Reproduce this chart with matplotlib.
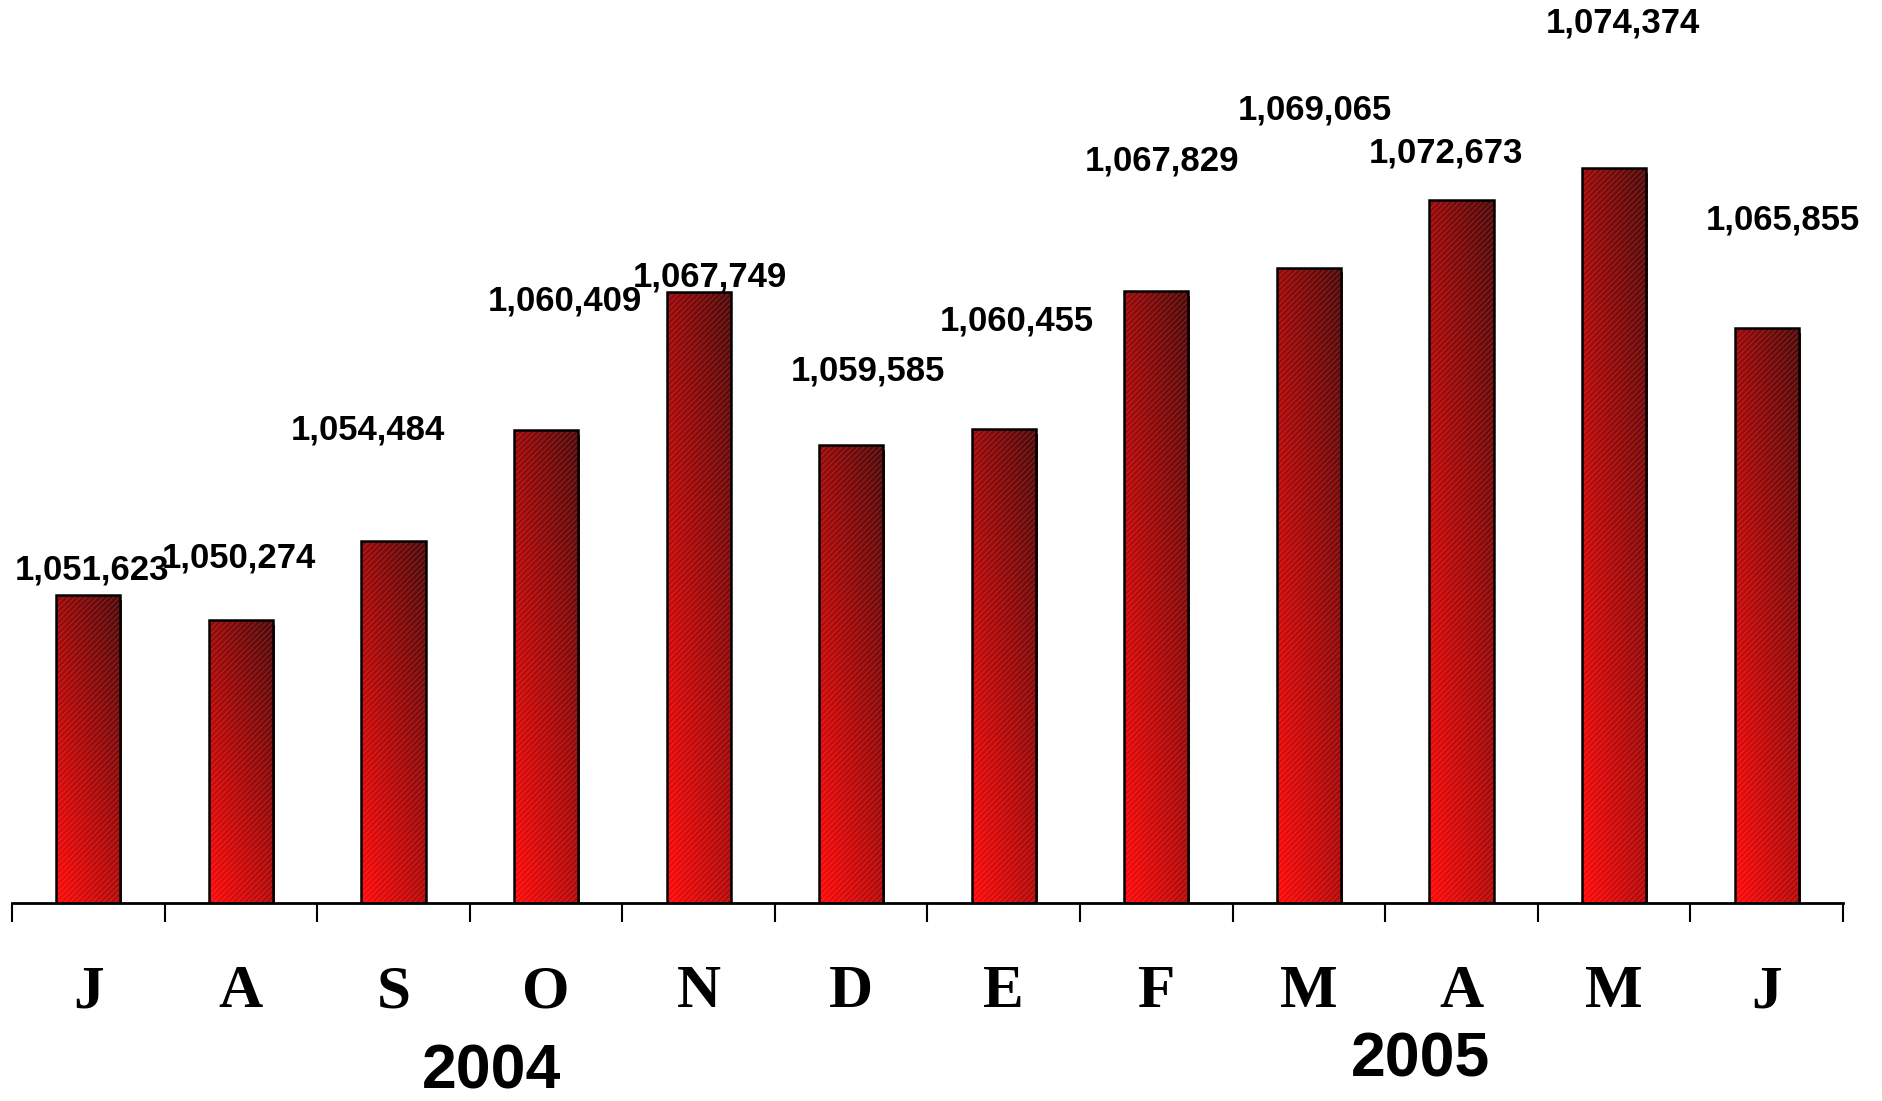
import matplotlib

matplotlib.use("Agg")
import matplotlib.pyplot as plt  # noqa: E402
import numpy as np  # noqa: E402

months = ["J", "A", "S", "O", "N", "D", "E", "F", "M", "A", "M", "J"]
values = [1051623, 1050274, 1054484, 1060409, 1067749, 1059585,
          1060455, 1067829, 1069065, 1072673, 1074374, 1065855]
years = ["2004", "2005"]

# label offsets (pixels) from the top centre of each bar, as in the original
label_dx = [4, -2, -26, 19, 11, 17, 13, 6, 6, -16, 9, 16]
label_dy = [25, 62, 111, 129, 15, 74, 108, 130, 158, 47, 145, 108]

Y_MIN, Y_MAX = 1035200, 1083330
BAR_W = 0.42

fig = plt.figure(figsize=(18.83, 11.01), dpi=100)
ax = fig.add_axes([12 / 1883, 198 / 1101, 1831 / 1883, 903 / 1101])

x = np.arange(len(months))
bright = np.array([1.0, 0.04, 0.04])
dark = np.array([0.33, 0.04, 0.04])

# diagonal gradient: bright bottom-left, dark top-right
gy, gx = np.mgrid[0:1:200j, 0:1:60j]
t = np.clip(0.6 * gy + 0.45 * gx, 0, 1)
grad = bright * (1 - t[..., None]) + dark * t[..., None]

for xi, v in zip(x, values):
    x0, x1 = xi - BAR_W / 2, xi + BAR_W / 2
    # small shadow to the right
    ax.add_patch(plt.Rectangle((x1, Y_MIN), 0.012, v - Y_MIN - 250,
                               facecolor="#7a0000", edgecolor="none", zorder=1))
    rect = plt.Rectangle((x0, Y_MIN), BAR_W, v - Y_MIN, facecolor="none",
                         edgecolor="none", zorder=2)
    ax.add_patch(rect)
    img = ax.imshow(grad, extent=(x0, x1, Y_MIN, v), origin="lower",
                    aspect="auto", zorder=2)
    img.set_clip_path(rect)

plt.rcParams["hatch.linewidth"] = 0.6
ax.bar(x, np.array(values) - Y_MIN, bottom=Y_MIN, width=BAR_W,
       facecolor="none", edgecolor=(1.0, 0.6, 0.6, 0.25), linewidth=0,
       hatch="//////", zorder=3)
ax.bar(x, np.array(values) - Y_MIN, bottom=Y_MIN, width=BAR_W,
       facecolor="none", edgecolor="black", linewidth=1.8, zorder=4)

for xi, v, dx, dy in zip(x, values, label_dx, label_dy):
    ax.annotate(f"{v:,}", xy=(xi, v), xytext=(dx, dy),
                textcoords="offset pixels", ha="center", va="center",
                fontsize=25, fontweight="bold", family="Liberation Sans",
                color="black", zorder=5)

ax.set_xlim(-0.5, len(months) - 0.5)
ax.set_ylim(Y_MIN, Y_MAX)

for s in ["left", "right", "top"]:
    ax.spines[s].set_visible(False)
ax.spines["bottom"].set_linewidth(2)
ax.set_yticks([])

ax.set_xticks(x)
ax.set_xticklabels(months, fontsize=44, fontweight="bold",
                   family="Liberation Serif")
ax.set_xticks(np.arange(len(months) + 1) - 0.5, minor=True)
ax.tick_params(axis="x", which="major", length=0, pad=44)
ax.tick_params(axis="x", which="minor", length=14, width=1.5, direction="out")

fig.text(492 / 1883, 1 - 1072 / 1101, years[0], ha="center", va="center",
         fontsize=45, fontweight="bold", family="Liberation Sans")
fig.text(1421 / 1883, 1 - 1060 / 1101, years[1], ha="center", va="center",
         fontsize=45, fontweight="bold", family="Liberation Sans")

fig.savefig("out.png", dpi=100)
